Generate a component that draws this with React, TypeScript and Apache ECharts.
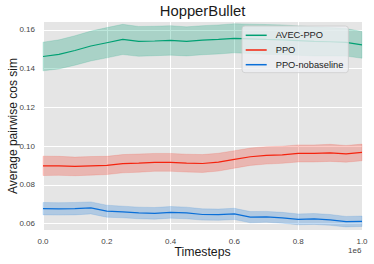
import React, { useEffect, useRef } from "react";
import * as echarts from "echarts";

const timesteps = [0, 50000, 100000, 150000, 200000, 250000, 300000, 350000, 400000, 450000, 500000, 550000, 600000, 650000, 700000, 750000, 800000, 850000, 900000, 950000, 1000000];

const avecMean = [0.1462, 0.1473, 0.1493, 0.1516, 0.1533, 0.1550, 0.1540, 0.1542, 0.1545, 0.1540, 0.1546, 0.1550, 0.1556, 0.1553, 0.1550, 0.1548, 0.1544, 0.1540, 0.1538, 0.1535, 0.1522];
const avecStd = [0.0074, 0.0075, 0.0076, 0.0077, 0.0078, 0.0078, 0.0077, 0.0076, 0.0076, 0.0075, 0.0075, 0.0075, 0.0075, 0.0076, 0.0077, 0.0077, 0.0076, 0.0075, 0.0073, 0.0071, 0.0069];

const ppoMean = [0.0898, 0.0898, 0.0895, 0.0898, 0.0900, 0.0909, 0.0912, 0.0916, 0.0916, 0.0912, 0.0910, 0.0917, 0.0931, 0.0945, 0.0952, 0.0955, 0.0962, 0.0962, 0.0965, 0.0960, 0.0967];
const ppoStd = [0.0050, 0.0049, 0.0048, 0.0048, 0.0047, 0.0047, 0.0047, 0.0046, 0.0046, 0.0046, 0.0046, 0.0046, 0.0045, 0.0045, 0.0045, 0.0044, 0.0044, 0.0044, 0.0044, 0.0043, 0.0043];

const noBaseMean = [0.0677, 0.0676, 0.0677, 0.0681, 0.0664, 0.0660, 0.0655, 0.0653, 0.0658, 0.0655, 0.0647, 0.0646, 0.0650, 0.0633, 0.0635, 0.0630, 0.0622, 0.0624, 0.0619, 0.0610, 0.0612];
const noBaseStd = [0.0032, 0.0032, 0.0032, 0.0031, 0.0031, 0.0030, 0.0030, 0.0030, 0.0030, 0.0030, 0.0029, 0.0029, 0.0029, 0.0029, 0.0028, 0.0028, 0.0028, 0.0028, 0.0028, 0.0027, 0.0027];

const yTicks = [0.06, 0.08, 0.1, 0.12, 0.14, 0.16];

const seriesDefs = [
  { name: "AVEC-PPO", mean: avecMean, std: avecStd, color: "#00a073", band: "rgba(0,160,115,0.26)" },
  { name: "PPO", mean: ppoMean, std: ppoStd, color: "#f5230e", band: "rgba(245,35,14,0.24)" },
  { name: "PPO-nobaseline", mean: noBaseMean, std: noBaseStd, color: "#0a6fd8", band: "rgba(10,111,216,0.24)" },
];

const FONT = "Liberation Sans, Arial, sans-serif";

export default function App() {
  const ref = useRef<HTMLDivElement>(null);
  useEffect(() => {
    if (!ref.current) return;
    const chart = echarts.init(ref.current, null, { renderer: "svg" });
    const series: any[] = [];
    seriesDefs.forEach((s) => {
      const upper = timesteps.map((t, i) => [t, s.mean[i] + s.std[i]]);
      const lower = timesteps.map((t, i) => [t, s.mean[i] - s.std[i]]);
      series.push({
        type: "custom",
        name: s.name + "-band",
        silent: true,
        z: 1,
        data: [[0, s.mean[0]]],
        renderItem: (params: any, api: any) => {
          const pts = upper
            .map((p) => api.coord(p))
            .concat(lower.slice().reverse().map((p) => api.coord(p)));
          return {
            type: "polygon",
            shape: { points: pts },
            style: { fill: s.band, stroke: s.band, lineWidth: 0.6 },
          };
        },
      });
    });
    seriesDefs.forEach((s) => {
      series.push({
        type: "line",
        name: s.name,
        data: timesteps.map((t, i) => [t, s.mean[i]]),
        symbol: "none",
        lineStyle: { color: s.color, width: 1.2 },
        itemStyle: { color: s.color },
        z: 3,
      });
    });
    chart.setOption({
      animation: false,
      backgroundColor: "#ffffff",
      textStyle: { fontFamily: FONT },
      title: {
        text: "HopperBullet",
        left: 202.5,
        top: 3,
        padding: 0,
        textAlign: "center",
        textStyle: { fontFamily: FONT, fontSize: 14.8, fontWeight: "normal", color: "#1a1a1a" },
      },
      grid: {
        left: 43,
        right: 12,
        top: 22,
        bottom: 34,
        show: true,
        backgroundColor: "#e5e5e5",
        borderWidth: 0,
        outerBoundsMode: "none",
        containLabel: false,
      },
      legend: {
        data: seriesDefs.map((s) => s.name),
        orient: "vertical",
        left: 242,
        top: 26,
        itemWidth: 21,
        itemHeight: 1.5,
        itemGap: 2.7,
        padding: [3.3, 5, 2, 3.7],
        icon: "rect",
        backgroundColor: "rgba(238,239,242,0.8)",
        borderColor: "#cccccc",
        borderWidth: 0.8,
        borderRadius: 3,
        textStyle: { fontFamily: FONT, fontSize: 9.3, color: "#222", lineHeight: 12, padding: [0, 0, 0, 4] },
        selectedMode: false,
      },
      xAxis: {
        type: "value",
        min: 0,
        max: 1000000,
        interval: 200000,
        name: "Timesteps",
        nameLocation: "middle",
        nameGap: 16,
        nameMoveOverlap: false,
        nameTextStyle: { fontFamily: FONT, fontSize: 12.3, color: "#1a1a1a" },
        axisLine: { show: false },
        axisTick: { show: false },
        axisLabel: {
          fontFamily: FONT,
          fontSize: 8,
          color: "#444",
          margin: 7,
          formatter: (v: number) => (v / 1e6).toFixed(1),
        },
        splitLine: { show: true, lineStyle: { color: "#ffffff", width: 1 } },
      },
      yAxis: {
        type: "value",
        min: 0.0567,
        max: 0.164,
        name: "Average pairwise cos sim",
        nameLocation: "middle",
        nameGap: 24,
        nameMoveOverlap: false,
        nameTextStyle: { fontFamily: FONT, fontSize: 12, color: "#1a1a1a" },
        axisLine: { show: false },
        axisTick: { show: false, customValues: yTicks },
        axisLabel: {
          fontFamily: FONT,
          fontSize: 8,
          color: "#444",
          margin: 8,
          customValues: yTicks,
          formatter: (v: number) => v.toFixed(2),
        },
        splitLine: { show: true, lineStyle: { color: "#ffffff", width: 1 } },
      },
      graphic: [
        {
          type: "text",
          left: 348,
          top: 246,
          style: { text: "1e6", font: "8px " + FONT, fill: "#444" },
        },
      ],
      series,
    });
    return () => chart.dispose();
  }, []);
  return (
    <div
      ref={ref}
      style={{ position: "fixed", left: 0, top: 0, width: 374, height: 264 }}
    />
  );
}
